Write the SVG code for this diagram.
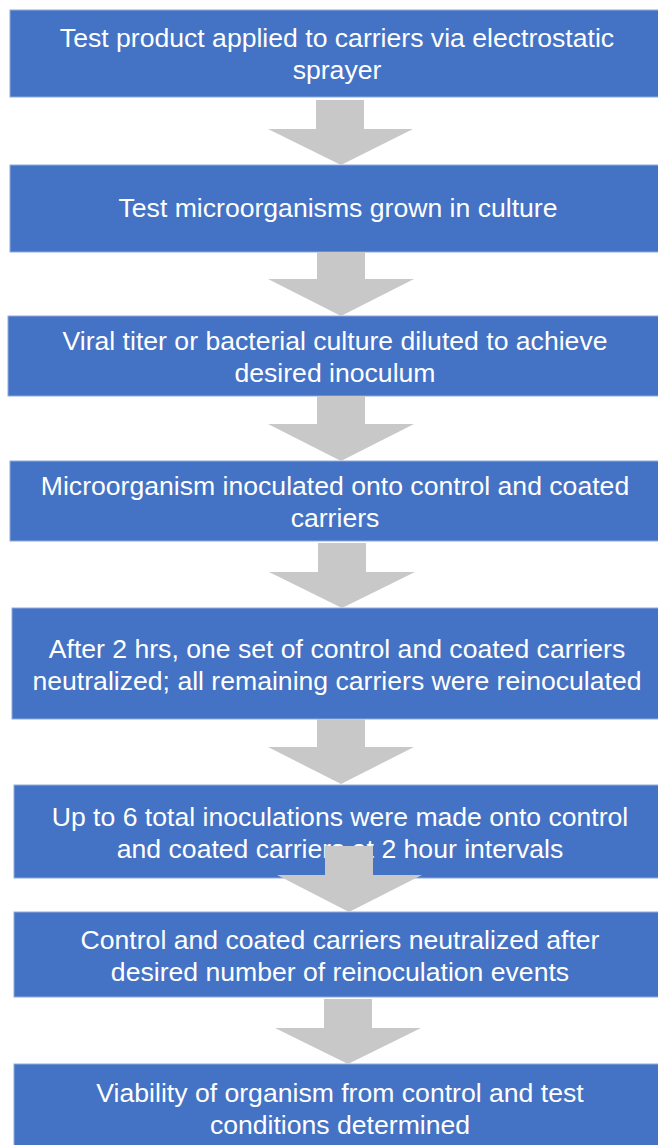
<svg xmlns="http://www.w3.org/2000/svg" width="658" height="1145" viewBox="0 0 658 1145">
<style>
.box{fill:#4472C4;stroke:#8FAADC;stroke-width:1}
.arrow{fill:#C8C8C8}
.t{font-family:"Liberation Sans",Arial,sans-serif;font-size:26.6px;fill:#FFFFFF;text-anchor:middle}
</style>
<rect width="658" height="1145" fill="#FFFFFF"/>
<g id="node1"><rect class="box" x="10" y="10" width="660" height="87"/>
<text class="t" x="337" y="47">Test product applied to carriers via electrostatic</text>
<text class="t" x="337" y="79">sprayer</text></g>
<g id="node2"><rect class="box" x="10" y="165" width="660" height="87"/>
<text class="t" x="338" y="217">Test microorganisms grown in culture</text></g>
<g id="node3"><rect class="box" x="8" y="316" width="662" height="80"/>
<text class="t" x="335" y="350">Viral titer or bacterial culture diluted to achieve</text>
<text class="t" x="335" y="382">desired inoculum</text></g>
<g id="node4"><rect class="box" x="10" y="461" width="660" height="80"/>
<text class="t" x="335" y="495">Microorganism inoculated onto control and coated</text>
<text class="t" x="335" y="527">carriers</text></g>
<g id="node5"><rect class="box" x="12" y="608" width="658" height="111"/>
<text class="t" x="337" y="658">After 2 hrs, one set of control and coated carriers</text>
<text class="t" x="337" y="690">neutralized; all remaining carriers were reinoculated</text></g>
<g id="node6"><rect class="box" x="14" y="785" width="656" height="93"/>
<text class="t" x="340" y="826">Up to 6 total inoculations were made onto control</text>
<text class="t" x="340" y="858">and coated carriers at 2 hour intervals</text></g>
<g id="node7"><rect class="box" x="14" y="912" width="656" height="85"/>
<text class="t" x="340" y="949">Control and coated carriers neutralized after</text>
<text class="t" x="340" y="981">desired number of reinoculation events</text></g>
<g id="node8"><rect class="box" x="14" y="1064" width="656" height="90"/>
<text class="t" x="340" y="1102">Viability of organism from control and test</text>
<text class="t" x="340" y="1134">conditions determined</text></g>
<g id="connectors">
<polygon class="arrow" points="316,100 364,100 364,129 413,129 341,165 268,129 316,129"/>
<polygon class="arrow" points="317,252 365,252 365,279 414,279 341,316 268,279 317,279"/>
<polygon class="arrow" points="317,396 365,396 365,424 414,424 341,461 268,424 317,424"/>
<polygon class="arrow" points="318,543 366,543 366,572 415,572 342,608 269,572 318,572"/>
<polygon class="arrow" points="317,719 365,719 365,747 414,747 341,784 268,747 317,747"/>
<polygon class="arrow" points="325,846 373,846 373,875 422,875 349,912 277,875 325,875"/>
<polygon class="arrow" points="324,999 372,999 372,1028 421,1028 348,1064 275,1028 324,1028"/>
</g>
</svg>
